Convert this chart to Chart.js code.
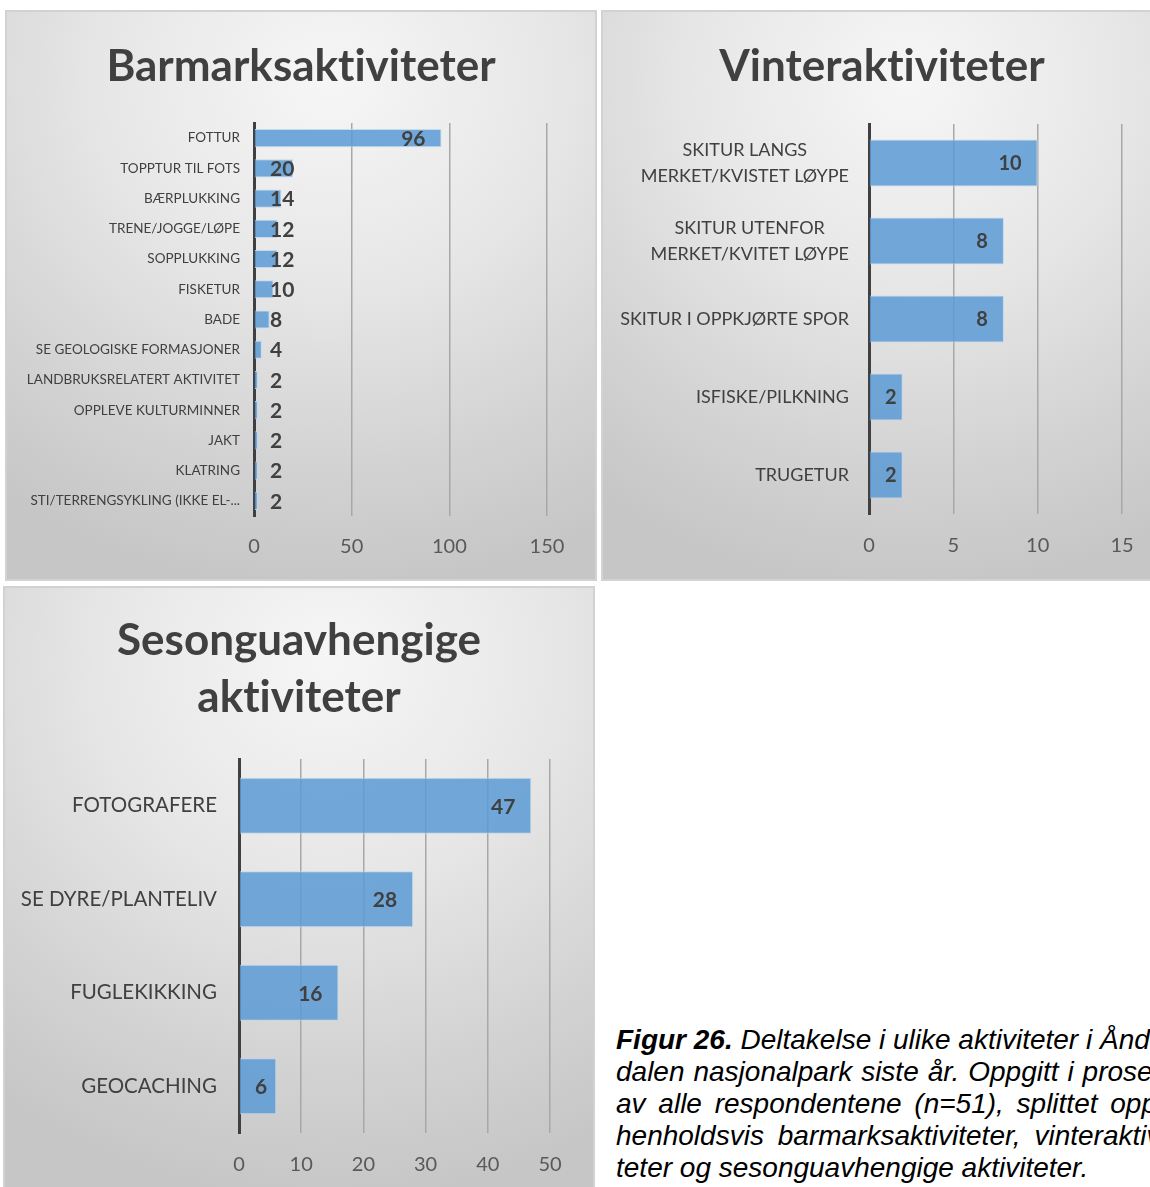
<!DOCTYPE html>
<html lang="no">
<head>
<meta charset="utf-8">
<script src="https://cdn.jsdelivr.net/npm/chart.js@4.4.0/dist/chart.umd.min.js"></script>
<style>
    html, body { margin: 0; padding: 0; background: #fff; }
    body { width: 1150px; height: 1187px; position: relative; overflow: hidden; }
    .panel {
        position: absolute;
        background: radial-gradient(ellipse 95% 90% at 55% 12%, #f6f6f6 0%, #e7e7e7 40%, #d3d3d3 75%, #c6c6c6 100%);
        box-shadow: 0 0 0 2px #d2d2d2;
    }
    .panel canvas { position: absolute; left: 0; top: 0; }
    .title {
        position: absolute; left: 0; right: 0; text-align: center;
        font-family: Lato, sans-serif; font-weight: bold; font-size: 44px; color: #404040;
        font-variant-ligatures: none; font-feature-settings: "liga" 0;
        z-index: 1;
    }
    #p1 { left: 7px; top: 12px; width: 588px; height: 567px; }
    #p2 { left: 603px; top: 12px; width: 558px; height: 567px; }
    #p3 { left: 5px; top: 588px; width: 588px; height: 599px; }
    #p1 .title, #p2 .title { top: 26px; line-height: 52px; }
    #p3 .title { top: 22px; line-height: 57px; }
    .caption {
        position: absolute; left: 616px; top: 1024px; width: 560px;
        font-family: "Liberation Sans", Arial, sans-serif; font-style: italic; font-size: 28px; line-height: 32px; color: #000;
    }
    .caption div { text-align: justify; text-align-last: justify; white-space: nowrap; }
    .caption div.last { text-align-last: left; }
</style>
</head>
<body>
<div class="panel" id="p1"><div class="title">Barmarksaktiviteter</div><canvas id="barmarkChart" width="588" height="567"></canvas></div>
<div class="panel" id="p2"><div class="title">Vinteraktiviteter</div><canvas id="vinterChart" width="558" height="567"></canvas></div>
<div class="panel" id="p3"><div class="title">Sesonguavhengige<br>aktiviteter</div><canvas id="sesongChart" width="588" height="599"></canvas></div>
<div class="caption">
    <div><b>Figur 26.</b> Deltakelse i ulike aktiviteter i Ånder-</div>
    <div>dalen nasjonalpark siste år. Oppgitt i prosent</div>
    <div>av alle respondentene (n=51), splittet opp i</div>
    <div>henholdsvis barmarksaktiviteter, vinteraktivi-</div>
    <div class="last">teter og sesonguavhengige aktiviteter.</div>
</div>
<script>
const barmarkLabels = ["FOTTUR", "TOPPTUR TIL FOTS", "BÆRPLUKKING", "TRENE/JOGGE/LØPE", "SOPPLUKKING", "FISKETUR", "BADE",
    "SE GEOLOGISKE FORMASJONER", "LANDBRUKSRELATERT AKTIVITET", "OPPLEVE KULTURMINNER", "JAKT", "KLATRING", "STI/TERRENGSYKLING (IKKE EL-..."];
const barmarkValues = [96, 20, 14, 12, 12, 10, 8, 4, 2, 2, 2, 2, 2];
const barmarkTicks = [0, 50, 100, 150];

const vinterLabels = [["SKITUR LANGS", "MERKET/KVISTET LØYPE"], ["SKITUR UTENFOR", "MERKET/KVITET LØYPE"], "SKITUR I OPPKJØRTE SPOR", "ISFISKE/PILKNING", "TRUGETUR"];
const vinterValues = [10, 8, 8, 2, 2];
const vinterTicks = [0, 5, 10, 15];

const sesongLabels = ["FOTOGRAFERE", "SE DYRE/PLANTELIV", "FUGLEKIKKING", "GEOCACHING"];
const sesongValues = [47, 28, 16, 6];
const sesongTicks = [0, 10, 20, 30, 40, 50];

const barColor = "rgba(91, 155, 213, 0.85)";
const barBorder = "rgba(190, 215, 238, 0.9)";

// category names left of the axis + value labels near the bar ends
const labelPlugin = {
    id: "barLabels",
    afterDatasetsDraw(chart, args, opts) {
        const ctx = chart.ctx;
        const yScale = chart.scales.y;
        const left = chart.chartArea.left;
        const values = chart.data.datasets[0].data;
        ctx.save();
        ctx.textBaseline = "middle";
        ctx.fillStyle = "#404040";
        ctx.font = opts.catSize + "px Lato";
        chart.data.labels.forEach((lab, i) => {
            const lines = Array.isArray(lab) ? lab : [lab];
            const y = yScale.getPixelForValue(i);
            const maxW = Math.max(...lines.map(l => ctx.measureText(l).width));
            const right = left - opts.catGap;
            ctx.textAlign = "center";
            lines.forEach((l, j) => {
                ctx.fillText(l, right - maxW / 2, y + (j - (lines.length - 1) / 2) * opts.catLine);
            });
        });
        ctx.font = "bold " + opts.valSize + "px Lato";
        ctx.textAlign = "left";
        chart.getDatasetMeta(0).data.forEach((bar, i) => {
            const txt = String(values[i]);
            const w = ctx.measureText(txt).width;
            let x = bar.x - 16 - w;
            if (x < left + 16) x = left + 16;
            ctx.fillText(txt, x, bar.y + 1);
        });
        ctx.restore();
    }
};

function makeChart(id, labels, values, ticks, o) {
    return new Chart(document.getElementById(id).getContext("2d"), {
        type: "bar",
        data: {
            labels: labels,
            datasets: [{
                data: values,
                backgroundColor: barColor,
                borderColor: barBorder,
                borderWidth: 1,
                categoryPercentage: 0.6,
                barPercentage: 1
            }]
        },
        options: {
            indexAxis: "y",
            responsive: false,
            animation: false,
            layout: { padding: { top: o.top, right: o.right, bottom: o.bottom, left: 0 } },
            plugins: {
                legend: { display: false },
                tooltip: { enabled: false },
                barLabels: { catSize: o.catSize, catLine: o.catLine, catGap: o.catGap, valSize: o.valSize }
            },
            scales: {
                x: {
                    min: ticks[0],
                    max: ticks[ticks.length - 1],
                    afterBuildTicks: s => { s.ticks = ticks.map(v => ({ value: v })); },
                    ticks: { color: "#595959", font: { family: "Lato", size: 20 }, padding: o.tickPad },
                    grid: { color: "#a8a8a8", lineWidth: 1.5, drawTicks: false },
                    border: { display: false },
                    afterFit: s => { s.height = 24 + o.tickPad; }
                },
                y: {
                    ticks: { display: false },
                    grid: { display: false },
                    border: { color: "#404040", width: 3 },
                    afterFit: s => { s.width = o.axisWidth; }
                }
            }
        },
        plugins: [labelPlugin]
    });
}

document.addEventListener("DOMContentLoaded", () => {
    Promise.all([
        document.fonts.load("20px Lato"),
        document.fonts.load("bold 20px Lato")
    ]).catch(() => {}).then(() => {
        makeChart("barmarkChart", barmarkLabels, barmarkValues, barmarkTicks, {
            top: 111, right: 48, bottom: 20, tickPad: 19, axisWidth: 247,
            catSize: 13.5, catLine: 16, catGap: 14, valSize: 21
        });
        makeChart("vinterChart", vinterLabels, vinterValues, vinterTicks, {
            top: 112, right: 39, bottom: 21, tickPad: 20, axisWidth: 266,
            catSize: 18, catLine: 26, catGap: 20, valSize: 20
        });
        makeChart("sesongChart", sesongLabels, sesongValues, sesongTicks, {
            top: 171, right: 43, bottom: 10, tickPad: 20, axisWidth: 234,
            catSize: 20.5, catLine: 24, catGap: 22, valSize: 21
        });
    });
});
</script>
</body>
</html>
